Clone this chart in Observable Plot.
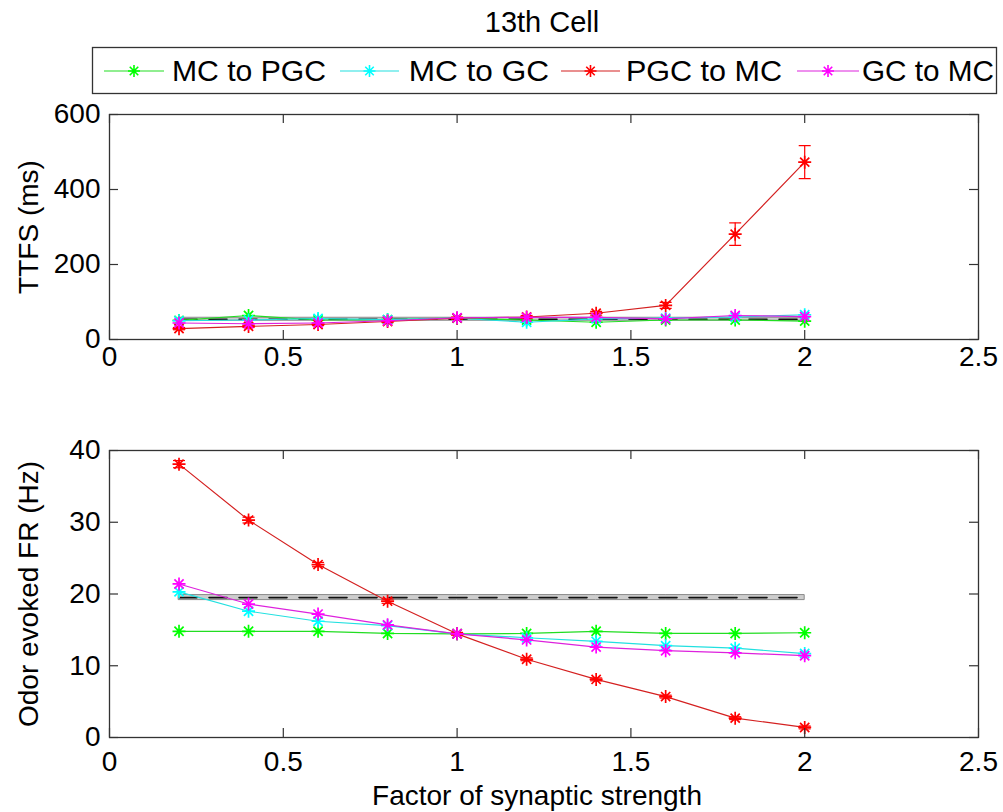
<!DOCTYPE html>
<html><head><meta charset="utf-8">
<script src="https://cdn.jsdelivr.net/npm/d3@7"></script>
<script src="https://cdn.jsdelivr.net/npm/@observablehq/plot@0.6"></script>
<style>
body{margin:0;background:#fff;}
#wrap{position:relative;width:1003px;height:812px;font-family:"Liberation Sans",Arial,sans-serif;background:#fff;overflow:hidden;}
#wrap > svg{position:absolute;left:0;}
</style></head><body><div id="wrap"></div>
<script>
// ---------------- data ----------------
const title = "13th Cell";
const seriesNames = ["MC to PGC", " MC to GC", "PGC to MC", "GC to MC"];
const factors = [0.2, 0.4, 0.6, 0.8, 1.0, 1.2, 1.4, 1.6, 1.8, 2.0];

// TTFS (ms)
const ttfsMCtoPGC = [51, 64, 52, 53, 57, 52, 46, 52, 52, 49];
const ttfsMCtoGC  = [50, 52, 56, 53, 57, 46, 55, 57, 60, 66];
const ttfsPGCtoMC = [29, 35, 40, 48, 57, 60, 70, 91, 281, 473];
const ttfsGCtoMC  = [44, 42, 44, 50, 58, 59, 59, 55, 64, 61];
const ttfsPGCtoMCErr = [3, 3, 3, 3, 3, 4, 5, 8, 30, 44];
const ttfsControlMean = 54, ttfsControlSd = 4;

// Odor evoked FR (Hz)
const frMCtoPGC = [14.8, 14.8, 14.8, 14.5, 14.45, 14.5, 14.8, 14.5, 14.5, 14.6];
const frMCtoGC  = [20.3, 17.6, 16.2, 15.6, 14.45, 13.9, 13.4, 12.8, 12.45, 11.7];
const frPGCtoMC = [38.1, 30.3, 24.1, 19.0, 14.45, 10.9, 8.1, 5.7, 2.7, 1.4];
const frGCtoMC  = [21.4, 18.6, 17.2, 15.7, 14.45, 13.6, 12.6, 12.1, 11.8, 11.4];
const frPGCtoMCErr = [0.5, 0.4, 0.3, 0.3, 0.2, 0.2, 0.2, 0.2, 0.2, 0.2];
const frControlMean = 19.5, frControlSd = 0.35;

const xTicks = [0, 0.5, 1, 1.5, 2, 2.5];
const xTickLabels = ["0", "0.5", "1", "1.5", "2", "2.5"];
const ttfsTicks = [0, 200, 400, 600];
const frTicks = [0, 10, 20, 30, 40];
const yLabelTop = "TTFS (ms)";
const yLabelBottom = "Odor evoked FR (Hz)";
const xLabel = "Factor of synaptic strength";

// ---------------- styles ----------------
const markerColors = ["#00ff00", "#00ffff", "#ff0000", "#ff00ff"];
const lineColors   = ["#22dd22", "#22e0e0", "#d42020", "#dd22dd"];
const FONT = '"Liberation Sans", Arial, sans-serif';

const asterisk = {
  draw(ctx, size) {
    const r = Math.sqrt(size / Math.PI), d = r * Math.SQRT1_2;
    ctx.moveTo(-r, 0); ctx.lineTo(r, 0);
    ctx.moveTo(0, -r); ctx.lineTo(0, r);
    ctx.moveTo(-d, -d); ctx.lineTo(d, d);
    ctx.moveTo(-d, d); ctx.lineTo(d, -d);
  }
};
const hbar = {
  draw(ctx, size) {
    const r = Math.sqrt(size / Math.PI);
    ctx.moveTo(-r, 0); ctx.lineTo(r, 0);
  }
};

const wrap = document.getElementById("wrap");

// ---------------- header: title + legend ----------------
const W = 1003;
const header = d3.create("svg").attr("width", W).attr("height", 100).style("top", "0px")
  .attr("font-family", FONT);
header.append("text").attr("x", 542).attr("y", 32).attr("text-anchor", "middle")
  .attr("font-size", 29).attr("fill", "#000").text(title);
header.append("rect").attr("x", 92.5).attr("y", 47.5).attr("width", 904).attr("height", 46)
  .attr("fill", "#fff").attr("stroke", "#333").attr("stroke-width", 1.3);
const legendItems = [
  {l0: 104, l1: 164, t0: 172, t1: 326},
  {l0: 340, l1: 399, t0: 400, t1: 549},
  {l0: 561, l1: 620, t0: 626, t1: 782},
  {l0: 797, l1: 859, t0: 862, t1: 994}
];
const symPath = d3.symbol().type(asterisk).size(Math.PI * 36)();
legendItems.forEach((it, i) => {
  const cy = 71;
  header.append("line").attr("x1", it.l0).attr("x2", it.l1).attr("y1", cy).attr("y2", cy)
    .attr("stroke", lineColors[i]).attr("stroke-width", 1.2);
  header.append("path").attr("d", symPath).attr("transform", `translate(${(it.l0 + it.l1) / 2},${cy})`)
    .attr("fill", "none").attr("stroke", markerColors[i]).attr("stroke-width", 1.6);
  header.append("text").attr("x", it.t0).attr("y", 81).attr("font-size", 29)
    .attr("textLength", it.t1 - it.t0).attr("lengthAdjust", "spacingAndGlyphs")
    .attr("xml:space", "preserve").style("white-space", "pre")
    .text(seriesNames[i]);
});
wrap.appendChild(header.node());

// ---------------- panel builder ----------------
function panel({top, height, marginTop, marginBottom, yDomain, yTicks, series, err, ctrlMean, ctrlSd, yLabel, xTickPad, extra = []}) {
  const marginLeft = 109, marginRight = 25;
  const innerW = W - marginLeft - marginRight;
  const innerH = height - marginTop - marginBottom;
  const marks = [];
  // control band
  marks.push(Plot.areaY(factors, {x: d => d, y1: ctrlMean - ctrlSd, y2: ctrlMean + ctrlSd,
    fill: "#cdcdcd", stroke: "#8a8a8a", strokeWidth: 1}));
  marks.push(Plot.lineY(factors, {x: d => d, y: ctrlMean, stroke: "#111", strokeWidth: 1.6,
    strokeDasharray: "18,12"}));
  // series
  series.forEach((vals, i) => {
    marks.push(Plot.lineY(vals, {x: (d, j) => factors[j], y: d => d, stroke: lineColors[i], strokeWidth: 1.2}));
    if (i === 2) {
      marks.push(Plot.ruleX(vals, {x: (d, j) => factors[j], y1: (d, j) => d - err[j], y2: (d, j) => d + err[j],
        stroke: markerColors[2], strokeWidth: 1.2}));
      marks.push(Plot.dot(vals, {x: (d, j) => factors[j], y: (d, j) => d - err[j], symbol: hbar, r: 6,
        fill: "none", stroke: markerColors[2], strokeWidth: 1.2}));
      marks.push(Plot.dot(vals, {x: (d, j) => factors[j], y: (d, j) => d + err[j], symbol: hbar, r: 6,
        fill: "none", stroke: markerColors[2], strokeWidth: 1.2}));
    }
    marks.push(Plot.dot(vals, {x: (d, j) => factors[j], y: d => d, symbol: asterisk, r: 6.5,
      fill: "none", stroke: markerColors[i], strokeWidth: 1.7}));
  });
  // frame and inward ticks
  marks.push(Plot.frame({stroke: "#333", strokeWidth: 1.3}));
  marks.push(Plot.tickX(xTicks, {x: d => d, insetTop: innerH - 9, stroke: "#333", strokeWidth: 1.2}));
  marks.push(Plot.tickX(xTicks, {x: d => d, insetBottom: innerH - 9, stroke: "#333", strokeWidth: 1.2}));
  marks.push(Plot.tickY(yTicks, {y: d => d, insetRight: innerW - 9, stroke: "#333", strokeWidth: 1.2}));
  marks.push(Plot.tickY(yTicks, {y: d => d, insetLeft: innerW - 9, stroke: "#333", strokeWidth: 1.2}));
  // axes
  marks.push(Plot.axisX(xTicks, {tickSize: 0, tickPadding: xTickPad, label: null,
    tickFormat: d => xTickLabels[xTicks.indexOf(d)], fill: "#000"}));
  marks.push(Plot.axisY(yTicks, {tickSize: 0, tickPadding: 9, label: null, fill: "#000"}));
  marks.push(Plot.text([yLabel], {text: d => d, frameAnchor: "left", rotate: -90, dx: -80,
    textAnchor: "middle", lineAnchor: "middle", fill: "#000"}));
  extra.forEach(m => marks.push(m));
  const svg = Plot.plot({
    width: W, height, marginLeft, marginRight, marginTop, marginBottom,
    x: {domain: [0, 2.5]},
    y: {domain: yDomain},
    style: {fontFamily: FONT, fontSize: "28px", background: "transparent", color: "#000", overflow: "visible"},
    marks
  });
  svg.style.top = top + "px";
  svg.style.position = "absolute";
  wrap.appendChild(svg);
}

panel({top: 100, height: 290, marginTop: 14, marginBottom: 51, yDomain: [0, 600], yTicks: ttfsTicks,
  series: [ttfsMCtoPGC, ttfsMCtoGC, ttfsPGCtoMC, ttfsGCtoMC], err: ttfsPGCtoMCErr,
  ctrlMean: ttfsControlMean, ctrlSd: ttfsControlSd, yLabel: yLabelTop, xTickPad: 7});

panel({top: 430, height: 382, marginTop: 20, marginBottom: 75, yDomain: [0, 40], yTicks: frTicks,
  series: [frMCtoPGC, frMCtoGC, frPGCtoMC, frGCtoMC], err: frPGCtoMCErr,
  ctrlMean: frControlMean, ctrlSd: frControlSd, yLabel: yLabelBottom, xTickPad: 14,
  extra: [Plot.text([xLabel], {text: d => d, frameAnchor: "bottom", dy: 48, dx: -7, lineAnchor: "top", fill: "#000"})]});
</script></body></html>
